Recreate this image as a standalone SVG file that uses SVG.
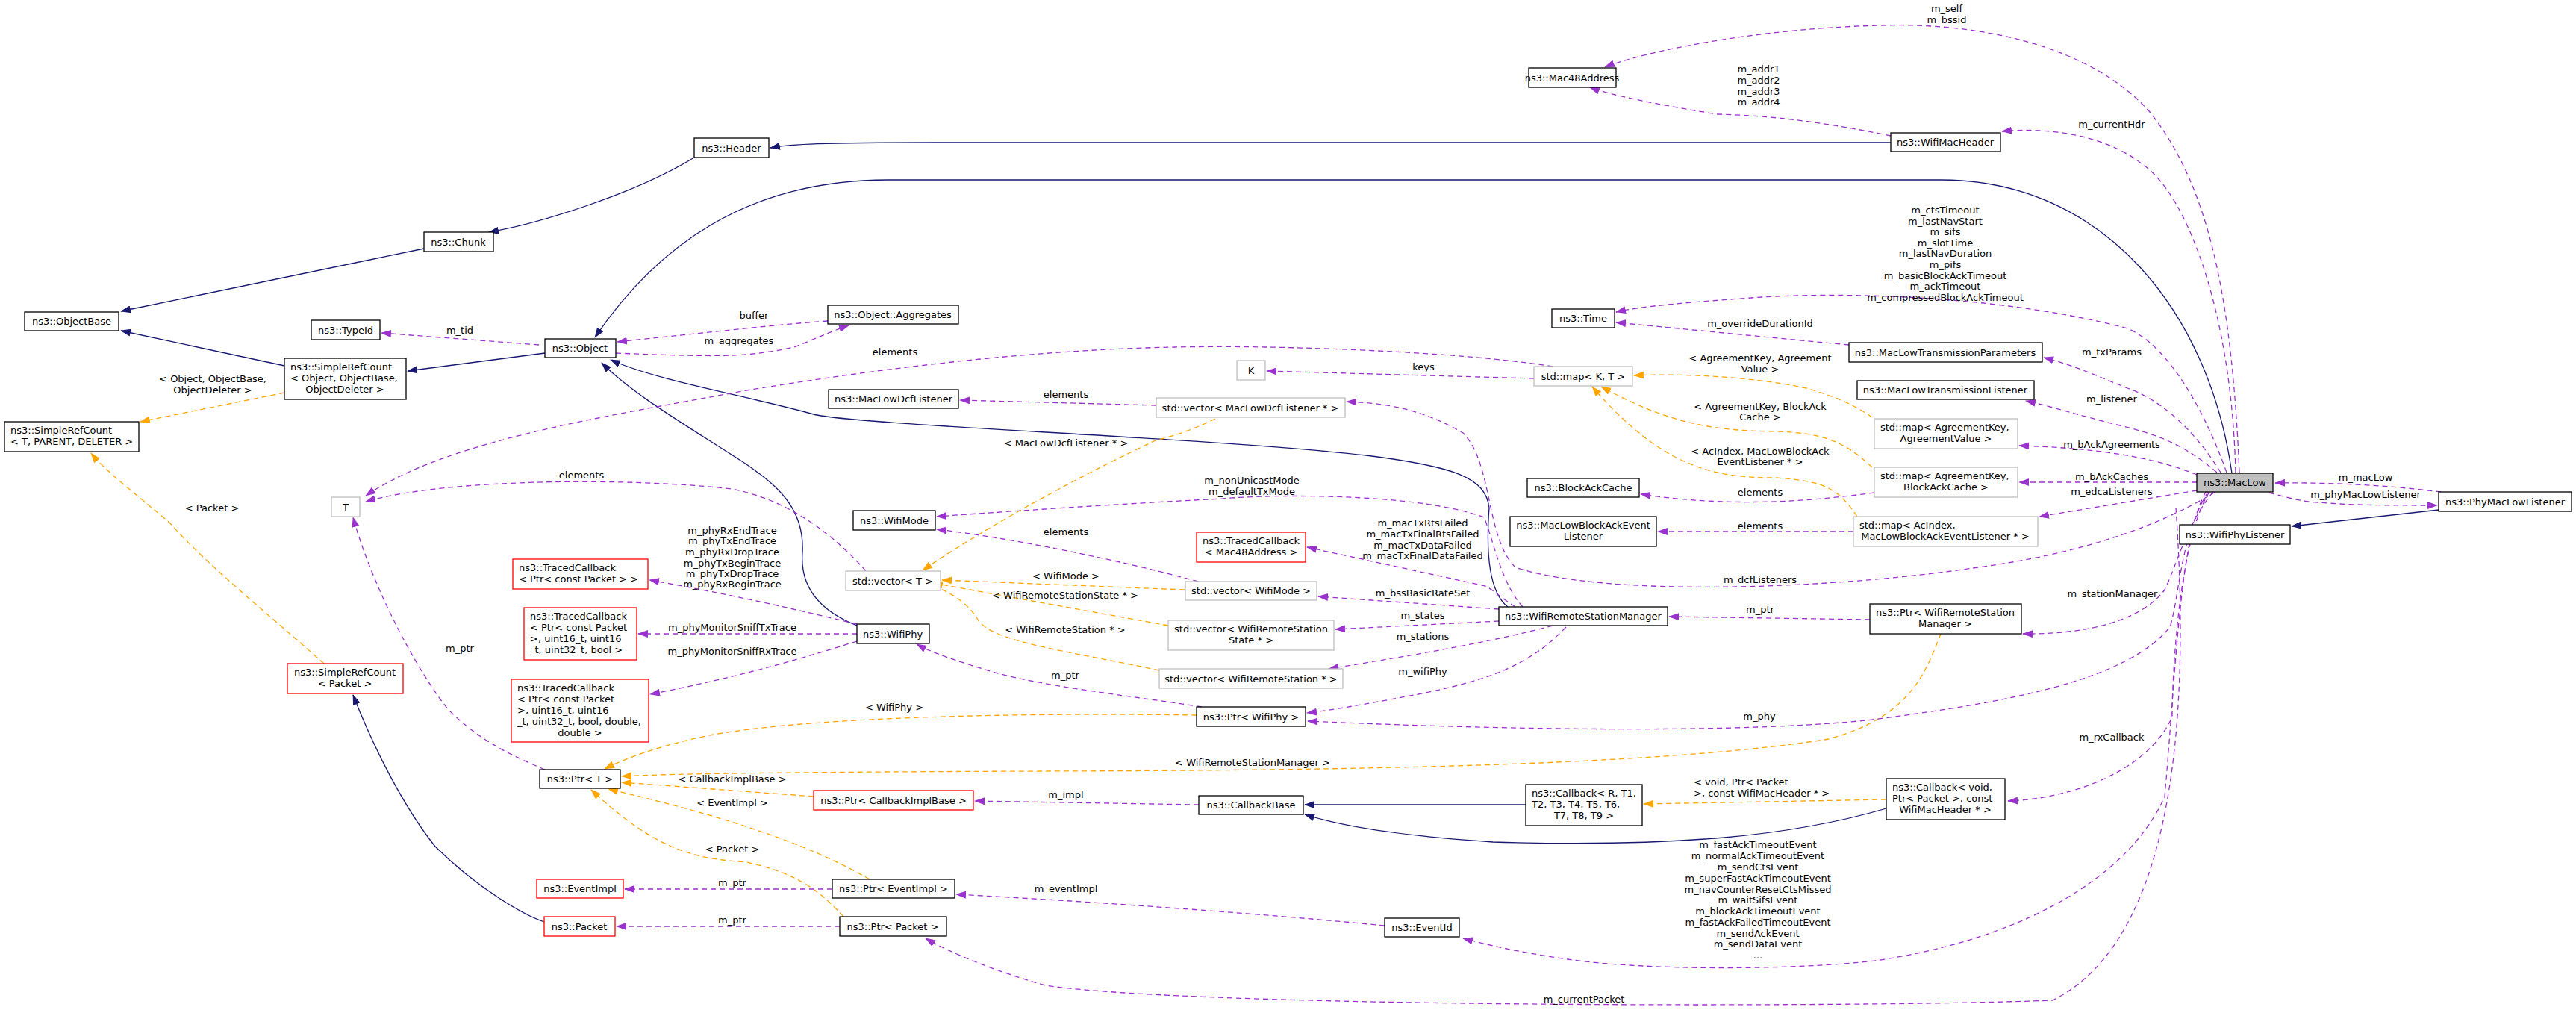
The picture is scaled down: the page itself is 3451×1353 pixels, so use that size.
<svg xmlns="http://www.w3.org/2000/svg" width="3451" height="1353" viewBox="0 0 3451 1353">
<style>
text{font-family:"DejaVu Sans","Liberation Sans",sans-serif;font-size:13px;fill:#000}
.n rect{fill:#fff;stroke:#000;stroke-width:1.3}
.n.g rect{stroke:#bfbfbf}
.n.r rect{stroke:#ff0000}
.n.m rect{fill:#bfbfbf}
.c text{text-anchor:middle}
.e path{fill:none;stroke-width:1.3}
.i{stroke:#191970}
.u{stroke:#9a32cd;stroke-dasharray:7,5}
.t{stroke:#ffa500;stroke-dasharray:7,5}
.i{marker-end:url(#ai)}
.u{marker-end:url(#au)}
.t{marker-end:url(#at)}
.l text{text-anchor:middle}
</style>
<defs>
<marker id="ai" markerWidth="14" markerHeight="10" refX="13" refY="5" orient="auto" markerUnits="userSpaceOnUse"><path d="M0,0 L14,5 L0,10 z" fill="#191970"/></marker>
<marker id="au" markerWidth="14" markerHeight="10" refX="13" refY="5" orient="auto" markerUnits="userSpaceOnUse"><path d="M0,0 L14,5 L0,10 z" fill="#9a32cd"/></marker>
<marker id="at" markerWidth="14" markerHeight="10" refX="13" refY="5" orient="auto" markerUnits="userSpaceOnUse"><path d="M0,0 L14,5 L0,10 z" fill="#ffa500"/></marker>
</defs>
<rect width="3451" height="1353" fill="#fff"/>
<g id="edges" class="e">
<path class="i" d="M568,333 L162,417"/>
<path class="i" d="M381,490 L162,443"/>
<path class="i" d="M730,473 L546,497"/>
<path class="i" d="M930,211 C850,260 720,300 655,311"/>
<path class="i" d="M2533,191 L1250,191 C1100,191 1060,193 1032,198"/>
<path class="i" d="M2990,634 C2960,420 2820,241 2600,241 L1190,241 C1000,241 880,330 797,452"/>
<path class="i" d="M2020,813 C1990,790 1992,720 1995,680 C1990,640 1950,625 1830,610 C1600,585 1150,570 1090,555 C1000,530 880,510 818,482"/>
<path class="i" d="M1148,838 C1090,815 1072,780 1075,740 C1078,680 1040,650 1000,622 C920,570 850,530 806,486"/>
<path class="i" d="M729,1235 C700,1225 640,1190 583,1134 C540,1080 500,1000 473,931"/>
<path class="i" d="M2044,1078 L1748,1078"/>
<path class="i" d="M2527,1083 C2400,1120 2250,1135 2000,1128 C1880,1120 1800,1108 1748,1091"/>
<path class="i" d="M3267,683 L3070,705"/>
<path class="t" d="M381,526 L188,565"/>
<path class="t" d="M434,889 C380,840 280,760 227,700 C180,660 140,630 122,607"/>
<path class="t" d="M1628,561 C1600,575 1570,585 1548,590 C1420,650 1300,720 1236,764"/>
<path class="t" d="M1587,790 L1262,777"/>
<path class="t" d="M1565,838 L1250,781"/>
<path class="t" d="M1553,898 C1420,870 1330,860 1310,830 C1295,805 1270,792 1244,782"/>
<path class="t" d="M2508,559 C2480,540 2460,532 2420,520 C2350,505 2260,500 2189,503"/>
<path class="t" d="M2508,626 C2470,590 2440,580 2380,578 C2300,577 2240,570 2145,518"/>
<path class="t" d="M2488,692 C2460,650 2440,645 2380,640 C2300,640 2230,630 2133,518"/>
<path class="t" d="M1603,958 C1400,955 1100,958 950,985 C880,1000 840,1015 810,1030"/>
<path class="t" d="M2600,849 C2580,900 2560,960 2450,990 C2200,1030 1700,1032 1400,1033 C1100,1034 900,1036 833,1040"/>
<path class="t" d="M1090,1067 L833,1048"/>
<path class="t" d="M1165,1178 C1100,1140 1000,1100 815,1057"/>
<path class="t" d="M1130,1228 C1100,1195 1070,1170 1000,1155 C930,1150 880,1140 792,1058"/>
<path class="t" d="M2527,1071 L2202,1077"/>
<path class="u" d="M722,462 L511,446"/>
<path class="u" d="M825,473 C900,476 960,478 1000,475 C1030,472 1050,468 1064,465 C1090,455 1110,445 1137,436"/>
<path class="u" d="M1109,430 C1050,434 1000,440 827,458"/>
<path class="u" d="M2055,507 L1697,497"/>
<path class="u" d="M2080,491 C1950,470 1700,462 1574,465 C1400,468 1200,490 1000,523 C800,560 600,590 490,664"/>
<path class="u" d="M1160,765 C1120,720 1060,670 980,655 C850,640 600,640 490,672"/>
<path class="u" d="M1549,543 L1286,536"/>
<path class="u" d="M1605,779 C1500,750 1350,720 1255,709"/>
<path class="u" d="M2511,660 C2420,672 2320,680 2198,662"/>
<path class="u" d="M2483,712 L2221,712"/>
<path class="u" d="M2477,462 C2400,455 2250,440 2165,432"/>
<path class="u" d="M1148,836 C1080,820 1000,800 870,777"/>
<path class="u" d="M1148,849 L855,849"/>
<path class="u" d="M1148,859 C1080,880 1000,905 871,930"/>
<path class="u" d="M1610,947 C1500,930 1400,920 1330,900 C1280,885 1250,875 1228,863"/>
<path class="u" d="M730,1031 C680,1010 640,990 600,950 C560,900 500,790 473,693"/>
<path class="u" d="M1606,1078 L1306,1073"/>
<path class="u" d="M1115,1191 L837,1191"/>
<path class="u" d="M1125,1241 L826,1241"/>
<path class="u" d="M1855,1240 C1700,1225 1500,1210 1281,1198"/>
<path class="u" d="M2008,816 L1766,799"/>
<path class="u" d="M2008,832 L1789,843"/>
<path class="u" d="M2080,838 C2000,860 1880,880 1780,896"/>
<path class="u" d="M2098,840 C2050,890 2000,910 1900,930 C1820,945 1780,952 1751,955"/>
<path class="u" d="M2040,813 C2010,780 2000,720 1988,693 C1900,660 1700,662 1638,668 C1500,675 1350,685 1255,692"/>
<path class="u" d="M2030,813 C2010,800 2000,790 1990,785 L1751,733"/>
<path class="u" d="M2505,830 L2236,826"/>
<path class="u" d="M2533,182 C2450,165 2380,155 2300,153 C2220,140 2160,128 2130,117"/>
<path class="u" d="M3000,633 C2990,400 2960,250 2880,150 C2800,60 2650,30 2520,34 C2350,38 2200,70 2150,90"/>
<path class="u" d="M2995,633 C2990,420 2930,260 2870,220 C2820,180 2740,170 2682,176"/>
<path class="u" d="M2983,633 C2950,540 2900,460 2850,440 C2700,400 2500,390 2360,398 C2260,405 2200,410 2165,418"/>
<path class="u" d="M2975,633 C2930,560 2880,530 2850,520 C2800,500 2780,490 2738,479"/>
<path class="u" d="M2970,633 C2920,590 2880,580 2840,570 C2780,555 2750,545 2714,537"/>
<path class="u" d="M2943,636 C2880,610 2800,600 2705,597"/>
<path class="u" d="M2943,646 L2705,646"/>
<path class="u" d="M2943,657 L2732,692"/>
<path class="u" d="M2968,659 C2900,700 2800,740 2650,760 C2450,790 2150,800 2030,760 C1990,720 2000,620 1960,580 C1900,545 1850,540 1804,538"/>
<path class="u" d="M2965,659 C2930,700 2915,760 2900,790 C2870,830 2800,850 2710,849"/>
<path class="u" d="M2958,659 C2920,720 2920,800 2907,840 C2850,910 2700,940 2500,965 C2300,985 1950,975 1752,966"/>
<path class="u" d="M2960,659 C2920,720 2910,900 2910,960 C2880,1030 2780,1070 2690,1073"/>
<path class="u" d="M2955,659 C2920,720 2915,900 2900,1067 C2850,1180 2700,1260 2512,1287 C2400,1300 2200,1300 2100,1285 C2030,1275 1990,1265 1960,1257"/>
<path class="u" d="M2915,680 C2930,900 2930,1250 2750,1340 C2500,1350 1600,1350 1400,1320 C1330,1300 1270,1275 1240,1257"/>
<path class="u" d="M3040,660 C3070,668 3090,673 3107,673 C3150,677 3200,677 3265,677"/>
<path class="u" d="M3270,659 C3200,650 3120,646 3048,647"/>
</g>
<g id="labels" class="l">
<text x="285" y="512">&lt; Object, ObjectBase,</text><text x="285" y="527">ObjectDeleter &gt;</text>
<text x="284" y="685">&lt; Packet &gt;</text>
<text x="616" y="447">m_tid</text>
<text x="779" y="641">elements</text>
<text x="616" y="873">m_ptr</text>
<text x="990" y="461">m_aggregates</text>
<text x="1010" y="427">buffer</text>
<text x="1199" y="476">elements</text>
<text x="1907" y="496">keys</text>
<text x="1428" y="533">elements</text>
<text x="1428" y="598">&lt; MacLowDcfListener * &gt;</text>
<text x="1677" y="648">m_nonUnicastMode</text><text x="1677" y="663">m_defaultTxMode</text>
<text x="1428" y="717">elements</text>
<text x="1906" y="705">m_macTxRtsFailed</text><text x="1906" y="720">m_macTxFinalRtsFailed</text><text x="1906" y="735">m_macTxDataFailed</text><text x="1906" y="749">m_macTxFinalDataFailed</text>
<text x="1428" y="776">&lt; WifiMode &gt;</text>
<text x="1427" y="802">&lt; WifiRemoteStationState * &gt;</text>
<text x="1427" y="848">&lt; WifiRemoteStation * &gt;</text>
<text x="1906" y="799">m_bssBasicRateSet</text>
<text x="1906" y="829">m_states</text>
<text x="1906" y="857">m_stations</text>
<text x="1906" y="904">m_wifiPhy</text>
<text x="981" y="715">m_phyRxEndTrace</text><text x="981" y="729">m_phyTxEndTrace</text><text x="981" y="744">m_phyRxDropTrace</text><text x="981" y="759">m_phyTxBeginTrace</text><text x="981" y="773">m_phyTxDropTrace</text><text x="981" y="787">m_phyRxBeginTrace</text>
<text x="981" y="845">m_phyMonitorSniffTxTrace</text>
<text x="981" y="877">m_phyMonitorSniffRxTrace</text>
<text x="1427" y="909">m_ptr</text>
<text x="1198" y="952">&lt; WifiPhy &gt;</text>
<text x="1678" y="1026">&lt; WifiRemoteStationManager &gt;</text>
<text x="981" y="1048">&lt; CallbackImplBase &gt;</text>
<text x="981" y="1080">&lt; EventImpl &gt;</text>
<text x="981" y="1142">&lt; Packet &gt;</text>
<text x="1428" y="1069">m_impl</text>
<text x="981" y="1187">m_ptr</text>
<text x="981" y="1237">m_ptr</text>
<text x="1428" y="1195">m_eventImpl</text>
<text x="2606" y="286">m_ctsTimeout</text><text x="2606" y="301">m_lastNavStart</text><text x="2606" y="315">m_sifs</text><text x="2606" y="330">m_slotTime</text><text x="2606" y="344">m_lastNavDuration</text><text x="2606" y="359">m_pifs</text><text x="2606" y="374">m_basicBlockAckTimeout</text><text x="2606" y="388">m_ackTimeout</text><text x="2606" y="403">m_compressedBlockAckTimeout</text>
<text x="2358" y="438">m_overrideDurationId</text>
<text x="2358" y="484">&lt; AgreementKey, Agreement</text><text x="2358" y="499">Value &gt;</text>
<text x="2358" y="549">&lt; AgreementKey, BlockAck</text><text x="2358" y="563">Cache &gt;</text>
<text x="2358" y="609">&lt; AcIndex, MacLowBlockAck</text><text x="2358" y="623">EventListener * &gt;</text>
<text x="2358" y="664">elements</text>
<text x="2358" y="709">elements</text>
<text x="2358" y="781">m_dcfListeners</text>
<text x="2358" y="821">m_ptr</text>
<text x="2608" y="16">m_self</text><text x="2608" y="31">m_bssid</text>
<text x="2356" y="97">m_addr1</text><text x="2356" y="112">m_addr2</text><text x="2356" y="127">m_addr3</text><text x="2356" y="141">m_addr4</text>
<text x="2829" y="171">m_currentHdr</text>
<text x="2829" y="476">m_txParams</text>
<text x="2829" y="539">m_listener</text>
<text x="2829" y="600">m_bAckAgreements</text>
<text x="2829" y="643">m_bAckCaches</text>
<text x="2829" y="663">m_edcaListeners</text>
<text x="3169" y="644">m_macLow</text>
<text x="3169" y="667">m_phyMacLowListener</text>
<text x="2830" y="800">m_stationManager</text>
<text x="2357" y="964">m_phy</text>
<text x="2829" y="992">m_rxCallback</text>
<text x="2269" y="1052" style="text-anchor:start">&lt; void, Ptr&lt; Packet</text>
<text x="2269" y="1067" style="text-anchor:start">&gt;, const WifiMacHeader * &gt;</text>
<text x="2355" y="1136">m_fastAckTimeoutEvent</text><text x="2355" y="1151">m_normalAckTimeoutEvent</text><text x="2355" y="1166">m_sendCtsEvent</text><text x="2355" y="1181">m_superFastAckTimeoutEvent</text><text x="2355" y="1196">m_navCounterResetCtsMissed</text><text x="2355" y="1210">m_waitSifsEvent</text><text x="2355" y="1225">m_blockAckTimeoutEvent</text><text x="2355" y="1240">m_fastAckFailedTimeoutEvent</text><text x="2355" y="1255">m_sendAckEvent</text><text x="2355" y="1269">m_sendDataEvent</text><text x="2355" y="1284">...</text>
<text x="2122" y="1343">m_currentPacket</text>
</g>
<g id="MacLow" class="n m c"><rect x="2943" y="634" width="102" height="25"/><text x="2994" y="651">ns3::MacLow</text></g>
<g id="PhyMacLowListener" class="n c"><rect x="3267" y="659" width="178" height="26"/><text x="3356" y="677">ns3::PhyMacLowListener</text></g>
<g id="WifiPhyListener" class="n c"><rect x="2920" y="703" width="148" height="26"/><text x="2994" y="721">ns3::WifiPhyListener</text></g>
<g id="Mac48Address" class="n c"><rect x="2048" y="91" width="117" height="26"/><text x="2106" y="109">ns3::Mac48Address</text></g>
<g id="WifiMacHeader" class="n c"><rect x="2533" y="178" width="147" height="25"/><text x="2606" y="195">ns3::WifiMacHeader</text></g>
<g id="Header" class="n c"><rect x="930" y="185" width="100" height="26"/><text x="980" y="203">ns3::Header</text></g>
<g id="Chunk" class="n c"><rect x="568" y="311" width="93" height="26"/><text x="614" y="329">ns3::Chunk</text></g>
<g id="ObjectBase" class="n c"><rect x="33" y="418" width="126" height="25"/><text x="96" y="435">ns3::ObjectBase</text></g>
<g id="TypeId" class="n c"><rect x="417" y="429" width="92" height="26"/><text x="463" y="447">ns3::TypeId</text></g>
<g id="Object" class="n c"><rect x="730" y="454" width="95" height="25"/><text x="777" y="471">ns3::Object</text></g>
<g id="SimpleRefCountObject" class="n"><rect x="381" y="480" width="163" height="55"/><text x="389" y="496">ns3::SimpleRefCount</text><text x="389" y="511">&lt; Object, ObjectBase,</text><text x="462" y="526" text-anchor="middle">ObjectDeleter &gt;</text></g>
<g id="SimpleRefCountT" class="n"><rect x="6" y="565" width="180" height="40"/><text x="14" y="581">ns3::SimpleRefCount</text><text x="14" y="596">&lt; T, PARENT, DELETER &gt;</text></g>
<g id="T" class="n g c"><rect x="444" y="666" width="38" height="26"/><text x="463" y="684">T</text></g>
<g id="SimpleRefCountPacket" class="n r c"><rect x="385" y="889" width="155" height="40"/><text x="462" y="905">ns3::SimpleRefCount</text><text x="462" y="920">&lt; Packet &gt;</text></g>
<g id="Aggregates" class="n c"><rect x="1109" y="409" width="175" height="25"/><text x="1196" y="426">ns3::Object::Aggregates</text></g>
<g id="MacLowDcfListener" class="n c"><rect x="1110" y="522" width="174" height="25"/><text x="1197" y="539">ns3::MacLowDcfListener</text></g>
<g id="K" class="n g c"><rect x="1657" y="483" width="38" height="26"/><text x="1676" y="501">K</text></g>
<g id="vectorMacLowDcfListener" class="n g c"><rect x="1549" y="533" width="253" height="26"/><text x="1675" y="551">std::vector&lt; MacLowDcfListener * &gt;</text></g>
<g id="WifiMode" class="n c"><rect x="1143" y="684" width="110" height="26"/><text x="1198" y="702">ns3::WifiMode</text></g>
<g id="vectorT" class="n g c"><rect x="1133" y="765" width="127" height="26"/><text x="1196" y="783">std::vector&lt; T &gt;</text></g>
<g id="TracedCallback1" class="n r"><rect x="687" y="749" width="181" height="40"/><text x="695" y="765">ns3::TracedCallback</text><text x="695" y="780">&lt; Ptr&lt; const Packet &gt; &gt;</text></g>
<g id="TracedCallback2" class="n r"><rect x="702" y="814" width="151" height="70"/><text x="710" y="830">ns3::TracedCallback</text><text x="710" y="845">&lt; Ptr&lt; const Packet</text><text x="710" y="860">&gt;, uint16_t, uint16</text><text x="710" y="875">_t, uint32_t, bool &gt;</text></g>
<g id="TracedCallback3" class="n r"><rect x="685" y="910" width="184" height="84"/><text x="693" y="926">ns3::TracedCallback</text><text x="693" y="941">&lt; Ptr&lt; const Packet</text><text x="693" y="956">&gt;, uint16_t, uint16</text><text x="693" y="971">_t, uint32_t, bool, double,</text><text x="777" y="986" text-anchor="middle">double &gt;</text></g>
<g id="WifiPhy" class="n c"><rect x="1148" y="836" width="97" height="26"/><text x="1196" y="854">ns3::WifiPhy</text></g>
<g id="TracedCallbackMac48" class="n r c"><rect x="1603" y="713" width="146" height="40"/><text x="1676" y="729">ns3::TracedCallback</text><text x="1676" y="744">&lt; Mac48Address &gt;</text></g>
<g id="vectorWifiMode" class="n g c"><rect x="1588" y="779" width="176" height="25"/><text x="1676" y="796">std::vector&lt; WifiMode &gt;</text></g>
<g id="vectorWRSState" class="n g c"><rect x="1565" y="831" width="222" height="40"/><text x="1676" y="847">std::vector&lt; WifiRemoteStation</text><text x="1676" y="862">State * &gt;</text></g>
<g id="vectorWRS" class="n g c"><rect x="1553" y="896" width="246" height="26"/><text x="1676" y="914">std::vector&lt; WifiRemoteStation * &gt;</text></g>
<g id="PtrWifiPhy" class="n c"><rect x="1603" y="947" width="146" height="26"/><text x="1676" y="965">ns3::Ptr&lt; WifiPhy &gt;</text></g>
<g id="WifiRemoteStationManager" class="n c"><rect x="2008" y="813" width="226" height="25"/><text x="2121" y="830">ns3::WifiRemoteStationManager</text></g>
<g id="PtrT" class="n c"><rect x="723" y="1031" width="108" height="25"/><text x="777" y="1048">ns3::Ptr&lt; T &gt;</text></g>
<g id="PtrCallbackImplBase" class="n r c"><rect x="1090" y="1059" width="214" height="26"/><text x="1197" y="1077">ns3::Ptr&lt; CallbackImplBase &gt;</text></g>
<g id="EventImpl" class="n r c"><rect x="719" y="1178" width="116" height="25"/><text x="777" y="1195">ns3::EventImpl</text></g>
<g id="PtrEventImpl" class="n c"><rect x="1115" y="1178" width="164" height="25"/><text x="1197" y="1195">ns3::Ptr&lt; EventImpl &gt;</text></g>
<g id="Packet" class="n r c"><rect x="729" y="1228" width="95" height="26"/><text x="776" y="1246">ns3::Packet</text></g>
<g id="PtrPacket" class="n c"><rect x="1125" y="1228" width="143" height="26"/><text x="1196" y="1246">ns3::Ptr&lt; Packet &gt;</text></g>
<g id="CallbackBase" class="n c"><rect x="1606" y="1066" width="140" height="25"/><text x="1676" y="1083">ns3::CallbackBase</text></g>
<g id="CallbackRT" class="n"><rect x="2044" y="1051" width="156" height="55"/><text x="2052" y="1067">ns3::Callback&lt; R, T1,</text><text x="2052" y="1082">T2, T3, T4, T5, T6,</text><text x="2122" y="1097" text-anchor="middle">T7, T8, T9 &gt;</text></g>
<g id="CallbackVoid" class="n"><rect x="2527" y="1043" width="159" height="55"/><text x="2535" y="1059">ns3::Callback&lt; void,</text><text x="2535" y="1074">Ptr&lt; Packet &gt;, const</text><text x="2606" y="1089" text-anchor="middle">WifiMacHeader * &gt;</text></g>
<g id="EventId" class="n c"><rect x="1855" y="1230" width="100" height="25"/><text x="1905" y="1247">ns3::EventId</text></g>
<g id="Time" class="n c"><rect x="2079" y="414" width="84" height="25"/><text x="2121" y="431">ns3::Time</text></g>
<g id="MacLowTransmissionParameters" class="n c"><rect x="2477" y="459" width="259" height="26"/><text x="2606" y="477">ns3::MacLowTransmissionParameters</text></g>
<g id="mapKT" class="n g c"><rect x="2055" y="491" width="132" height="26"/><text x="2121" y="509">std::map&lt; K, T &gt;</text></g>
<g id="MacLowTransmissionListener" class="n c"><rect x="2488" y="510" width="237" height="25"/><text x="2606" y="527">ns3::MacLowTransmissionListener</text></g>
<g id="mapAgreementValue" class="n g"><rect x="2511" y="561" width="192" height="40"/><text x="2519" y="577">std::map&lt; AgreementKey,</text><text x="2607" y="592" text-anchor="middle">AgreementValue &gt;</text></g>
<g id="mapBlockAckCache" class="n g"><rect x="2511" y="626" width="192" height="40"/><text x="2519" y="642">std::map&lt; AgreementKey,</text><text x="2607" y="657" text-anchor="middle">BlockAckCache &gt;</text></g>
<g id="BlockAckCache" class="n c"><rect x="2046" y="641" width="150" height="25"/><text x="2121" y="658">ns3::BlockAckCache</text></g>
<g id="MacLowBlockAckEventListener" class="n c"><rect x="2023" y="692" width="196" height="40"/><text x="2121" y="708">ns3::MacLowBlockAckEvent</text><text x="2121" y="723">Listener</text></g>
<g id="mapAcIndex" class="n g"><rect x="2483" y="692" width="247" height="40"/><text x="2491" y="708">std::map&lt; AcIndex,</text><text x="2606" y="723" text-anchor="middle">MacLowBlockAckEventListener * &gt;</text></g>
<g id="PtrWifiRemoteStationManager" class="n c"><rect x="2505" y="809" width="203" height="40"/><text x="2606" y="825">ns3::Ptr&lt; WifiRemoteStation</text><text x="2606" y="840">Manager &gt;</text></g>
</svg>
